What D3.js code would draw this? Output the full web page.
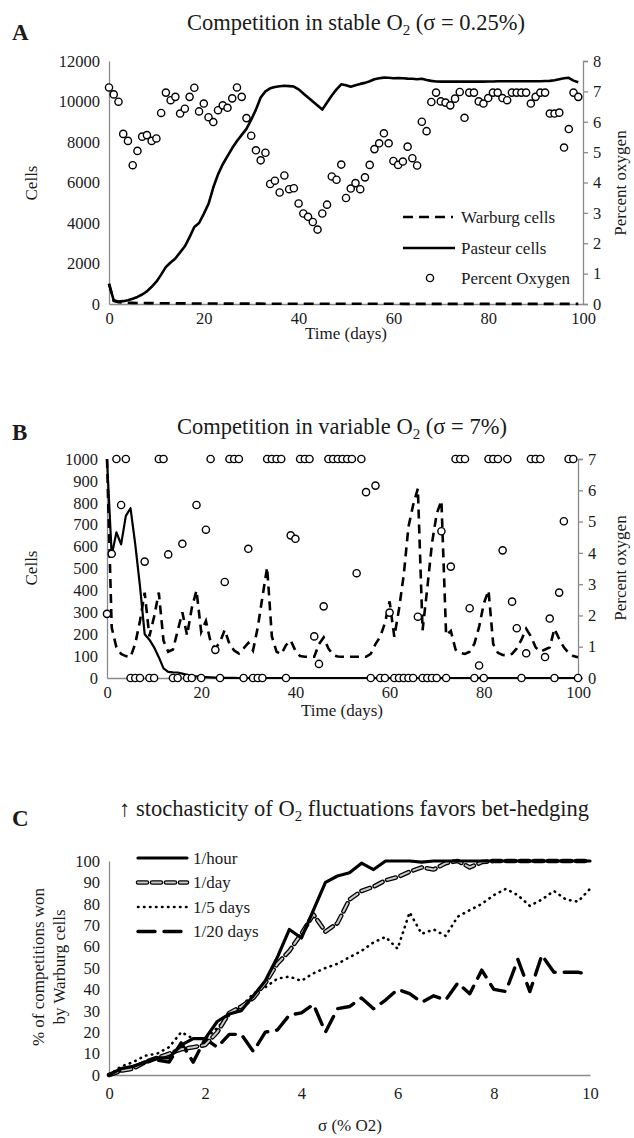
<!DOCTYPE html>
<html>
<head>
<meta charset="utf-8">
<script src="https://cdn.jsdelivr.net/npm/d3@7"></script>
<style>
  body { margin: 0; background: #fff; }
  text { font-family: "Liberation Serif", "Times New Roman", serif; fill: #1a1a1a; }
</style>
</head>
<body>
<script>
// ---- Panel A: stable O2 ----
const daysA = d3.range(0, 100);
const pasteurA = [1000,180,120,140,190,260,350,470,620,850,1100,1450,1830,2050,2250,2550,2850,3300,3800,4000,
  4450,4950,5750,6400,6900,7300,7700,8050,8350,8650,9100,9600,10200,10500,10650,10720,10750,10780,10760,10740,
  10600,10400,10200,10000,9800,9600,9950,10300,10600,10850,10800,10730,10800,10870,10920,11000,11100,11150,11180,11170,
  11150,11160,11150,11130,11120,11100,11120,11060,11020,10990,10980,10980,10980,10980,10980,10980,10980,10980,10980,10980,
  10990,10990,11000,11000,11000,11000,11000,11000,11000,11000,11000,11000,11010,11020,11050,11100,11150,11170,11030,10950];
const warburgA = [1000,150,90,70,60,55,50,48,45,42,40,38,36,34,32,30,29,28,27,26,
  25,24,23,22,21,20,20,19,19,18,18,17,17,16,16,15,15,15,14,14,
  14,13,13,13,12,12,12,12,11,11,11,11,10,10,10,10,10,9,9,9,
  9,9,8,8,8,8,8,8,7,7,7,7,7,7,7,6,6,6,6,6,
  6,6,6,5,5,5,5,5,5,5,5,5,5,5,4,4,4,4,4,4];
const oxygenA = [7.13,6.90,6.66,5.60,5.37,4.57,5.04,5.51,5.56,5.37,5.45,6.29,6.96,6.71,6.82,6.27,6.43,6.82,7.12,6.34,
  6.60,6.15,5.99,6.38,6.54,6.46,6.77,7.13,6.82,6.12,5.54,5.06,4.73,4.98,3.95,4.06,3.67,4.23,3.78,3.81,
  3.31,2.98,2.87,2.70,2.45,2.98,3.27,4.20,4.09,4.59,3.49,3.80,3.98,3.78,4.17,4.58,5.10,5.29,5.62,5.29,
  4.71,4.58,4.69,5.18,4.80,4.56,6.00,5.69,6.65,6.96,6.67,6.63,6.54,6.76,6.98,6.13,6.96,6.96,6.67,6.60,
  6.78,6.96,6.96,6.78,6.71,6.96,6.96,6.96,6.96,6.60,6.82,6.96,6.96,6.27,6.27,6.30,5.15,5.76,6.96,6.82];

// ---- Panel B: variable O2 ----
const daysB = d3.range(0, 101);
const pasteurB = [1000,560,665,610,740,775,610,420,200,175,140,95,44,28,26,25,20,15,10,7,
  5,4,3,2,2,1,1,1,0,0,0,0,0,0,0,0,0,0,0,0,
  0,0,0,0,0,0,0,0,0,0,0,0,0,0,0,0,0,0,0,0,
  0,0,0,0,0,0,0,0,0,0,0,0,0,0,0,0,0,0,0,0,
  0,0,0,0,0,0,0,0,0,0,0,0,0,0,0,0,0,0,0,0,0];
const warburgB = [1000,230,140,110,100,95,157,260,390,190,280,390,170,120,130,215,300,195,320,400,
  210,260,165,135,165,220,155,125,112,135,160,125,230,370,505,190,120,108,150,172,
  125,100,97,97,97,155,185,135,105,98,97,97,97,97,97,97,110,155,188,250,
  350,188,315,470,690,790,865,218,410,615,750,810,195,215,130,115,110,120,157,233,
  340,400,155,115,105,104,110,135,175,225,190,140,120,130,140,225,178,140,115,100,95];
const oxygenB = [2.05,3.97,7,5.53,7,0,0,0,3.72,0,0,7,7,3.95,0,0,4.29,0,0,5.53,
  0,4.74,7,0.9,0,3.07,7,7,7,0,4.13,0,0,0,7,7,7,7,0,4.56,
  4.45,7,7,7,1.33,0.45,2.29,7,7,7,7,7,7,3.35,7,5.94,0,6.15,0,0,
  2.09,0,0,0,0,0,1.96,0,0,0,0,4.69,0,3.56,7,7,7,2.23,0,0.4,
  0,7,7,7,4.08,7,2.44,1.59,0,0.79,7,7,7,0.67,1.9,0,2.73,5.01,7,7,0];

// ---- Panel C: % competitions won ----
const sigma = [0,0.25,0.5,0.75,1,1.25,1.5,1.75,2,2.25,2.5,2.75,3,3.25,3.5,3.75,4,4.25,4.5,4.75,
  5,5.25,5.5,5.75,6,6.25,6.5,6.75,7,7.25,7.5,7.75,8,8.25,8.5,8.75,9,9.25,9.5,9.75,10];
const perHour = [0,3,4,6,8,8,14,17,17,25,28.5,30,37,44,55,68,64,77,90,93,
  94.5,99,96,100,100,100,99.5,100,100,100,100,100,100,100,100,100,100,100,100,100,100];
const perDay = [0,2,3,6,8,10,12,13,14,20,29,32,36,43,52,58,66,75,67,71,
  82,86,88,91,92.5,95,97,96,99,100,97,99.5,100,100,100,100,100,100,100,100,100];
const per5Days = [0,4,6,9,10,13,20,17,17,22,28,32,38,41,45,46,44,47.5,50,52,
  55,58,62,64.5,59,76,66,68,65,74,77,80,84,87,84,79,82,86,82,81,87];
const per20Days = [0,2,4,6,7,6,15,6,17,13,19,19,11,20,21,28,29,33,20,31,
  32,36,31,35,40,38,34,37,35,43,38,49,40,39,54,39,56,48,48,48,47];

const ticksA = [0, 20, 40, 60, 80, 100];
const seriesC = [
  { name: "1/hour", values: perHour },
  { name: "1/day", values: perDay },
  { name: "1/5 days", values: per5Days },
  { name: "1/20 days", values: per20Days }
];

const W = 634, H = 1138;
const axisGray = "#8a8a8a";
const fmt = d3.format("d");

const svg = d3.select("body").append("svg")
  .attr("width", W)
  .attr("height", H);

function styleAxis(g) {
  g.attr("font-family", null).attr("font-size", null);
  g.select(".domain").attr("stroke", axisGray).attr("stroke-width", 1.3);
  g.selectAll(".tick line").attr("stroke", axisGray).attr("stroke-width", 1.3);
  g.selectAll(".tick text")
    .attr("fill", "#1a1a1a")
    .style("font-size", "16.5px");
}

function title(x, y, main, sub, rest) {
  const t = svg.append("text").attr("x", x).attr("y", y)
    .attr("text-anchor", "middle").style("font-size", "22.5px");
  t.append("tspan").text(main);
  t.append("tspan").attr("dy", 5).style("font-size", "15px").text(sub);
  t.append("tspan").attr("dy", -5).text(rest);
}

function letter(x, y, s) {
  svg.append("text").attr("x", x).attr("y", y)
    .style("font-size", "23px").style("font-weight", "bold").text(s);
}

function vlabel(x, y, s) {
  svg.append("text")
    .attr("transform", `translate(${x},${y}) rotate(-90)`)
    .attr("text-anchor", "middle")
    .style("font-size", "17px")
    .text(s);
}

function hlabel(x, y, s) {
  svg.append("text").attr("x", x).attr("y", y)
    .attr("text-anchor", "middle").style("font-size", "17px").text(s);
}

// ================= Panel A =================
const xA = d3.scaleLinear().domain([0, 100]).range([109, 583]);
const yA = d3.scaleLinear().domain([0, 12000]).range([304, 61]);
const yA2 = d3.scaleLinear().domain([0, 8]).range([304, 61]);

letter(12, 40, "A");
title(356, 30, "Competition in stable O", "2", " (σ = 0.25%)");

svg.append("g").attr("transform", "translate(109,0)")
  .call(d3.axisLeft(yA).tickValues(d3.range(0, 12001, 2000)).tickFormat(fmt)
    .tickSize(0).tickPadding(9).tickSizeOuter(0))
  .call(styleAxis);
svg.append("g").attr("transform", "translate(583,0)")
  .call(d3.axisRight(yA2).ticks(8).tickSize(5).tickPadding(5).tickSizeOuter(5))
  .call(styleAxis);
svg.append("g").attr("transform", "translate(0,304)")
  .call(d3.axisBottom(xA).tickValues(ticksA).tickSize(0).tickPadding(8).tickSizeOuter(0))
  .call(styleAxis);

vlabel(37, 183, "Cells");
vlabel(626, 183, "Percent oxygen");
hlabel(346, 339, "Time (days)");

const lineA = d3.line().x((d, i) => xA(daysA[i])).y(d => yA(d));
svg.append("path").datum(warburgA).attr("d", lineA)
  .attr("fill", "none").attr("stroke", "#000").attr("stroke-width", 2.6)
  .attr("stroke-dasharray", "10,6");
svg.append("path").datum(pasteurA).attr("d", lineA)
  .attr("fill", "none").attr("stroke", "#000").attr("stroke-width", 2.6)
  .attr("stroke-linejoin", "round");
svg.append("g").selectAll("circle").data(oxygenA).join("circle")
  .attr("cx", (d, i) => xA(daysA[i])).attr("cy", d => yA2(d))
  .attr("r", 3.6).attr("fill", "#fff").attr("stroke", "#000").attr("stroke-width", 1.4);

// legend A
const legA = svg.append("g");
legA.append("line").attr("x1", 403).attr("x2", 453).attr("y1", 217).attr("y2", 217)
  .attr("stroke", "#000").attr("stroke-width", 2.6).attr("stroke-dasharray", "10,6");
legA.append("line").attr("x1", 403).attr("x2", 455).attr("y1", 248).attr("y2", 248)
  .attr("stroke", "#000").attr("stroke-width", 2.6);
legA.append("circle").attr("cx", 430).attr("cy", 278).attr("r", 3.6)
  .attr("fill", "#fff").attr("stroke", "#000").attr("stroke-width", 1.4);
[["Warburg cells", 217], ["Pasteur cells", 248], ["Percent Oxygen", 278]].forEach(([s, y]) => {
  legA.append("text").attr("x", 461).attr("y", y).attr("dy", "0.35em")
    .style("font-size", "17px").text(s);
});

// ================= Panel B =================
const xB = d3.scaleLinear().domain([0, 100]).range([107, 578]);
const yB = d3.scaleLinear().domain([0, 1000]).range([678, 459]);
const yB2 = d3.scaleLinear().domain([0, 7]).range([678, 459]);

letter(12, 440, "B");
title(342, 434, "Competition in variable  O", "2", " (σ = 7%)");

svg.append("g").attr("transform", "translate(107,0)")
  .call(d3.axisLeft(yB).tickValues(d3.range(0, 1001, 100)).tickFormat(fmt)
    .tickSize(0).tickPadding(9).tickSizeOuter(0))
  .call(styleAxis);
svg.append("g").attr("transform", "translate(578,0)")
  .call(d3.axisRight(yB2).ticks(7).tickSize(5).tickPadding(5).tickSizeOuter(5))
  .call(styleAxis);
svg.append("g").attr("transform", "translate(0,678)")
  .call(d3.axisBottom(xB).tickValues(ticksA).tickSize(0).tickPadding(8).tickSizeOuter(0))
  .call(styleAxis);

vlabel(37, 568, "Cells");
vlabel(626, 568, "Percent oxygen");
hlabel(342, 716, "Time (days)");

const lineB = d3.line().x((d, i) => xB(daysB[i])).y(d => yB(d));
svg.append("path").datum(warburgB).attr("d", lineB)
  .attr("fill", "none").attr("stroke", "#000").attr("stroke-width", 2.6)
  .attr("stroke-dasharray", "9,6");
svg.append("path").datum(pasteurB).attr("d", lineB)
  .attr("fill", "none").attr("stroke", "#000").attr("stroke-width", 2.2)
  .attr("stroke-linejoin", "round");
svg.append("g").selectAll("circle").data(oxygenB).join("circle")
  .attr("cx", (d, i) => xB(daysB[i])).attr("cy", d => yB2(d))
  .attr("r", 3.6).attr("fill", "#fff").attr("stroke", "#000").attr("stroke-width", 1.4);

// ================= Panel C =================
const xC = d3.scaleLinear().domain([0, 10]).range([109, 590]);
const yC = d3.scaleLinear().domain([0, 100]).range([1075, 861]);

letter(12, 826, "C");
title(354, 816, "↑ stochasticity of O", "2", " fluctuations favors bet-hedging");

svg.append("g").attr("transform", "translate(109,0)")
  .call(d3.axisLeft(yC).tickValues(d3.range(0, 101, 10)).tickSize(0).tickPadding(9).tickSizeOuter(0))
  .call(styleAxis);
svg.append("g").attr("transform", "translate(0,1075)")
  .call(d3.axisBottom(xC).tickValues([0, 2, 4, 6, 8, 10]).tickSize(0).tickPadding(12).tickSizeOuter(0))
  .call(styleAxis);

const yt = svg.append("text")
  .attr("transform", "translate(44,967) rotate(-90)")
  .attr("text-anchor", "middle").style("font-size", "17px");
yt.append("tspan").attr("x", 0).attr("dy", 0).text("% of competitions won");
yt.append("tspan").attr("x", 0).attr("dy", 21).text("by Warburg cells");
hlabel(350, 1131, "σ (% O2)");

const lineC = d3.line().x((d, i) => xC(sigma[i])).y(d => yC(d));
const styleC = {
  "1/hour": [{ w: 3.2, c: "#000", dash: null }],
  "1/day": [{ w: 4.6, c: "#000", dash: "9,5" }, { w: 2, c: "#c8c8c8", dash: "9,5" }],
  "1/5 days": [{ w: 2.6, c: "#000", dash: "0.5,5.5" }],
  "1/20 days": [{ w: 3.4, c: "#000", dash: "17,9" }]
};
const drawOrder = ["1/20 days", "1/5 days", "1/day", "1/hour"];
drawOrder.forEach(name => {
  const s = seriesC.find(d => d.name === name);
  styleC[name].forEach(st => {
    svg.append("path").datum(s.values).attr("d", lineC)
      .attr("fill", "none").attr("stroke", st.c).attr("stroke-width", st.w)
      .attr("stroke-linecap", "round").attr("stroke-linejoin", "round")
      .attr("stroke-dasharray", st.dash);
  });
});

// legend C
const legC = svg.append("g");
seriesC.forEach((s, i) => {
  const y = 858 + i * 24.5;
  styleC[s.name].forEach(st => {
    legC.append("line").attr("x1", 138).attr("x2", 187).attr("y1", y).attr("y2", y)
      .attr("stroke", st.c).attr("stroke-width", st.w)
      .attr("stroke-linecap", "round").attr("stroke-dasharray", st.dash);
  });
  legC.append("text").attr("x", 193).attr("y", y).attr("dy", "0.35em")
    .style("font-size", "17px").text(s.name);
});
</script>
</body>
</html>
